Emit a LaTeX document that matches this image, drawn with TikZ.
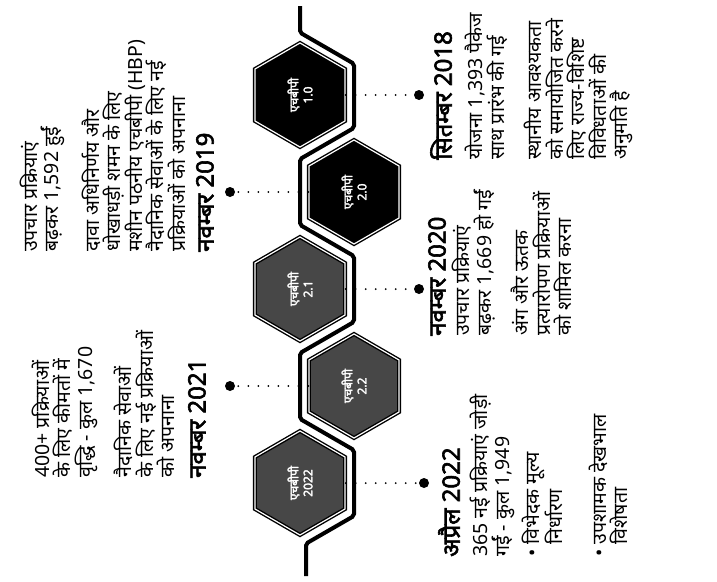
\documentclass[tikz,border=0pt]{standalone}
\usepackage{fontspec}
\setmainfont[Script=Devanagari, BoldFont={Noto Sans}, BoldFeatures={FakeBold=2.5}]{Noto Sans}
\usetikzlibrary{shapes.geometric, positioning}
\tikzset{
  hexaBase/.style={
    regular polygon, regular polygon sides=6, rotate=90,
    minimum size=104pt, inner sep=0pt,
    draw=black, line width=1.4pt, double=white, double distance=1.2pt,
    fill=black, text=white, align=center,
    font=\bfseries\fontsize{12}{14}\selectfont
  },
  hexaFoto/.style={hexaBase, fill=black!72},
  punto/.style={circle, fill=black, minimum size=10pt, inner sep=0pt},
  punteado/.style={line width=2pt, dash pattern=on 0pt off 10pt, line cap=round},
  linea/.style={line width=4pt, rounded corners=2pt},
  titulo/.style={rotate=90, inner sep=0pt, font=\bfseries\fontsize{24}{26}\selectfont},
  texto/.style={rotate=90, inner sep=0pt, align=left, font=\fontsize{19.5}{21.5}\selectfont},
}
\begin{document}
\begin{tikzpicture}[x=1pt, y=-1pt]
  \useasboundingbox (0,0) rectangle (717,581);
  % linea de tiempo
  \draw[linea] (300,6) -- (300,32.6) -- (354,63.8) -- (354,127.9) -- (300,159.1)
    -- (300,224.9) -- (354,256.1) -- (354,321.9) -- (300,353.1) -- (300,418.9)
    -- (354,450.1) -- (354,515.9) -- (306,543.6) -- (306,576);
  % hexagonos
  \node[hexaBase] (hbp1) at (300,95) {एचबीपी\\1.0};
  \node[hexaBase] (hbp2) at (354,192) {एचबीपी\\2.0};
  \node[hexaFoto] (hbp21) at (300,289) {एचबीपी\\2.1};
  \node[hexaFoto] (hbp22) at (354,386) {एचबीपी\\2.2};
  \node[hexaFoto] (hbp2022) at (300,483) {एचबीपी\\2022};
  % puntos
  \node[punto] (p2018) at (419,95) {};
  \node[punto] (p2019) at (230,192) {};
  \node[punto] (p2020) at (419,289) {};
  \node[punto] (p2021) at (230,386) {};
  \node[punto] (p2022) at (424,483) {};
  \draw[punteado] (hbp1) -- (p2018);
  \draw[punteado] (hbp2) -- (p2019);
  \draw[punteado] (hbp21) -- (p2020);
  \draw[punteado] (hbp22) -- (p2021);
  \draw[punteado] (hbp2022) -- (p2022);
  % textos
  \node[titulo, anchor=north west] (t2018) at (430,160) {सितम्बर 2018};
  \node[texto, anchor=north west] (x2018) at ([xshift=13pt]t2018.south west)
    {योजना 1,393 पैकेज\\साथ प्रारंभ की गई\\[16pt]स्थानीय आवश्यकता\\को समायोजित करने\\लिए राज्य-विशिष्ट\\विविधताओं की\\अनुमति है};
  \node[titulo, anchor=south west] (t2019) at (214,252) {नवम्बर 2019};
  \node[texto, anchor=south west] (x2019) at ([xshift=-10pt]t2019.north west)
    {उपचार प्रक्रियाएं\\बढ़कर 1,592 हुईं\\[16pt]दावा अधिनिर्णय और\\धोखाधड़ी शमन के लिए\\मशीन पठनीय एचबीपी (HBP)\\नैदानिक सेवाओं के लिए नई\\प्रक्रियाओं को अपनाना};
  \node[titulo, anchor=north west] (t2020) at (428,336) {नवम्बर 2020};
  \node[texto, anchor=north west] (x2020) at ([xshift=6pt]t2020.south west)
    {उपचार प्रक्रियाएं\\बढ़कर 1,669 हो गईं\\[16pt]अंग और ऊतक\\प्रत्यारोपण प्रक्रियाओं\\को शामिल करना};
  \node[titulo, anchor=south west] (t2021) at (206,478) {नवम्बर 2021};
  \node[texto, anchor=south west] (x2021) at ([xshift=-13pt]t2021.north west)
    {400+ प्रक्रियाओं\\के लिए कीमतों में\\वृद्धि - कुल 1,670\\[16pt]नैदानिक सेवाओं\\के लिए नई प्रक्रियाओं\\को अपनाना};
  \node[titulo, anchor=north west] (t2022) at (438,557) {अप्रैल 2022};
  \node[texto, anchor=north west] (x2022) at ([xshift=10pt]t2022.south west)
    {365 नई प्रक्रियाएं जोड़ी\\गईं - कुल 1,949\\[6pt]• विभेदक मूल्य\\\phantom{• }निर्धारण\\[22pt]• उपशामक देखभाल\\\phantom{• }विशेषता};
\end{tikzpicture}
\end{document}
